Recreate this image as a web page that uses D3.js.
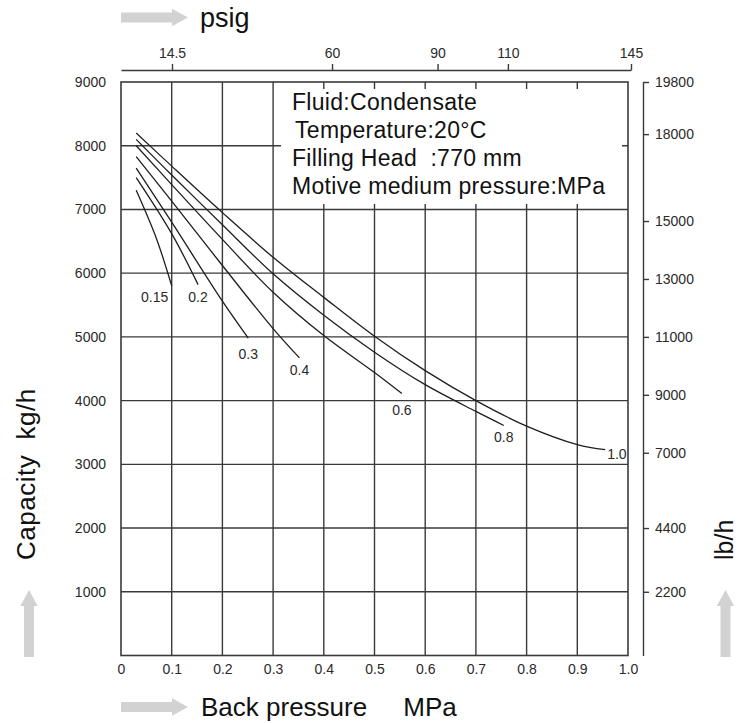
<!DOCTYPE html>
<html>
<head>
<meta charset="utf-8">
<script src="https://cdn.jsdelivr.net/npm/d3@7"></script>
<style>
  body { margin: 0; background: #fff; }
  svg { display: block; font-family: 'Liberation Sans', Arial, sans-serif; }
</style>
</head>
<body>
<svg id="canvas" width="739" height="723"></svg>
<script>
// tick values
var mpaTicks = [0, 0.1, 0.2, 0.3, 0.4, 0.5, 0.6, 0.7, 0.8, 0.9, 1.0]
var kgTicks = [1000, 2000, 3000, 4000, 5000, 6000, 7000, 8000, 9000]
var psigTicks = [14.5, 60, 90, 110, 145]
var lbTicks = [2200, 4400, 7000, 9000, 11000, 13000, 15000, 18000, 19800]

// capacity curves: [back pressure MPa, capacity kg/h], one per motive pressure
var curve015 = [[0.03, 7300], [0.07, 6540], [0.10, 5800]]
var curve02 = [[0.03, 7500], [0.1, 6620], [0.152, 5820]]
var curve03 = [[0.03, 7650], [0.1, 6800], [0.2, 5560], [0.251, 4980]]
var curve04 = [[0.03, 7830], [0.1, 7130], [0.2, 6120], [0.3, 5130], [0.352, 4670]]
var curve06 = [[0.03, 8000], [0.1, 7390], [0.2, 6530], [0.3, 5700], [0.4, 5020], [0.5, 4440], [0.554, 4110]]
var curve08 = [[0.03, 8100], [0.1, 7540], [0.2, 6760], [0.3, 5990], [0.4, 5340], [0.5, 4760], [0.6, 4250], [0.7, 3830], [0.755, 3610]]
var curve10 = [[0.03, 8200], [0.1, 7680], [0.2, 6950], [0.3, 6250], [0.4, 5620], [0.5, 5010], [0.6, 4470], [0.7, 4000], [0.8, 3600], [0.9, 3310], [0.955, 3230]]

var motivePressures = ['0.15', '0.2', '0.3', '0.4', '0.6', '0.8', '1.0']
var curves = [curve015, curve02, curve03, curve04, curve06, curve08, curve10]

var notes = ['Fluid:Condensate', 'Temperature:20°C', 'Filling Head  :770 mm', 'Motive medium pressure:MPa']

// where each curve label sits relative to the curve end [dx, dy, anchor]
var labelNudge = {
  '0.15': [-17, 16, 'middle'],
  '0.2': [0, 17, 'middle'],
  '0.3': [0, 21, 'middle'],
  '0.4': [0, 17, 'middle'],
  '0.6': [0, 21, 'middle'],
  '0.8': [0, 17, 'middle'],
  '1.0': [2, 9, 'start']
}

var ink = '#3a3a3a'
var svg = d3.select('#canvas')

var x = d3.scaleLinear().domain([0, 1]).range([121, 628])
var y = d3.scaleLinear().domain([0, 9000]).range([655.5, 82])
var xPsig = d3.scaleLinear().domain([0, 145]).range([121, 631])
var yLb = d3.scaleLinear().domain([0, 19800]).range([655.5, 82])

// grid lines
var grid = svg.append('g').attr('stroke', ink).attr('stroke-width', 1.4)
grid.selectAll('.gx')
  .data(mpaTicks.slice(1, -1))
  .enter().append('line')
  .attr('class', 'gx')
  .attr('x1', d => x(d)).attr('x2', d => x(d))
  .attr('y1', y(0)).attr('y2', y(9000))
grid.selectAll('.gy')
  .data(kgTicks.slice(0, -1))
  .enter().append('line')
  .attr('class', 'gy')
  .attr('x1', x(0)).attr('x2', x(1))
  .attr('y1', d => y(d)).attr('y2', d => y(d))

// white panel behind the notes hides the grid
svg.append('rect')
  .attr('x', 281).attr('y', 89)
  .attr('width', 341).attr('height', 115)
  .attr('fill', '#fff')

// frame
svg.append('rect')
  .attr('x', x(0)).attr('y', y(9000))
  .attr('width', x(1) - x(0)).attr('height', y(0) - y(9000))
  .attr('fill', 'none').attr('stroke', ink).attr('stroke-width', 1.6)

function styleAxis(g) {
  g.selectAll('text')
    .attr('font-family', "'Liberation Sans', Arial, sans-serif")
    .attr('font-size', 14)
    .attr('fill', '#2a2a2a')
  g.selectAll('line').attr('stroke', ink).attr('stroke-width', 1.4)
  g.select('.domain').attr('stroke', ink).attr('stroke-width', 1.4)
}

// bottom MPa labels
svg.append('g')
  .attr('transform', `translate(0,${y(0)})`)
  .call(d3.axisBottom(x).tickValues(mpaTicks)
    .tickFormat(d => d === 0 ? '0' : d3.format('.1f')(d))
    .tickSize(0).tickPadding(9))
  .call(g => g.select('.domain').remove())
  .call(styleAxis)

// left kg/h labels
svg.append('g')
  .attr('transform', `translate(${x(0)},0)`)
  .call(d3.axisLeft(y).tickValues(kgTicks).tickFormat(d3.format('d'))
    .tickSize(0).tickPadding(15))
  .call(g => g.select('.domain').remove())
  .call(styleAxis)

// top psig axis
svg.append('g')
  .attr('transform', 'translate(0,70)')
  .call(d3.axisTop(xPsig).tickValues(psigTicks).tickFormat(d => String(d))
    .tickSize(6).tickSizeOuter(0).tickPadding(6))
  .call(styleAxis)

// right lb/h axis
svg.append('g')
  .attr('transform', 'translate(643,0)')
  .call(d3.axisRight(yLb).tickValues(lbTicks).tickFormat(d3.format('d'))
    .tickSize(6).tickSizeOuter(0).tickPadding(6))
  .call(styleAxis)

// the curves
var line = d3.line()
  .x(d => x(d[0]))
  .y(d => y(d[1]))
  .curve(d3.curveCatmullRom.alpha(0.5))

svg.selectAll('.curve')
  .data(curves)
  .enter().append('path')
  .attr('class', 'curve')
  .attr('d', line)
  .attr('fill', 'none')
  .attr('stroke', '#1e1e1e')
  .attr('stroke-width', 1.3)

svg.selectAll('.curve-label')
  .data(motivePressures)
  .enter().append('text')
  .attr('class', 'curve-label')
  .each(function(d, i) {
    var end = curves[i][curves[i].length - 1]
    var nudge = labelNudge[d]
    d3.select(this)
      .attr('x', x(end[0]) + nudge[0])
      .attr('y', y(end[1]) + nudge[1])
      .attr('text-anchor', nudge[2])
  })
  .attr('font-size', 14)
  .attr('fill', '#2a2a2a')
  .text(d => d)

// notes block
svg.selectAll('.note')
  .data(notes)
  .enter().append('text')
  .attr('class', 'note')
  .attr('x', (d, i) => i === 1 ? 295 : 292)
  .attr('y', (d, i) => 110 + i * 28)
  .attr('font-size', 23)
  .attr('letter-spacing', 0.3)
  .attr('fill', '#111')
  .style('white-space', 'pre')
  .text(d => d)

// gray block arrows
function drawArrow(tx, ty, angle) {
  svg.append('path')
    .attr('transform', `translate(${tx},${ty}) rotate(${angle})`)
    .attr('d', 'M0,-5H51V-8.7L67,0L51,8.7V5H0Z')
    .attr('fill', '#d2d2d2')
}
drawArrow(121, 17.5, 0)
drawArrow(121, 707, 0)
drawArrow(29, 657, -90)
drawArrow(725.5, 657, -90)

// axis titles
svg.append('text')
  .attr('x', 200).attr('y', 27)
  .attr('font-size', 27).attr('fill', '#111')
  .text('psig')

svg.append('text')
  .attr('x', 201).attr('y', 716)
  .attr('font-size', 26).attr('fill', '#111')
  .style('white-space', 'pre')
  .text('Back pressure     MPa')

svg.append('text')
  .attr('transform', 'translate(35,560) rotate(-90)')
  .attr('font-size', 26).attr('letter-spacing', 0.5).attr('fill', '#111')
  .style('white-space', 'pre')
  .text('Capacity  kg/h')

svg.append('text')
  .attr('transform', 'translate(733,560) rotate(-90)')
  .attr('font-size', 25).attr('fill', '#111')
  .text('lb/h')
</script>
</body>
</html>
